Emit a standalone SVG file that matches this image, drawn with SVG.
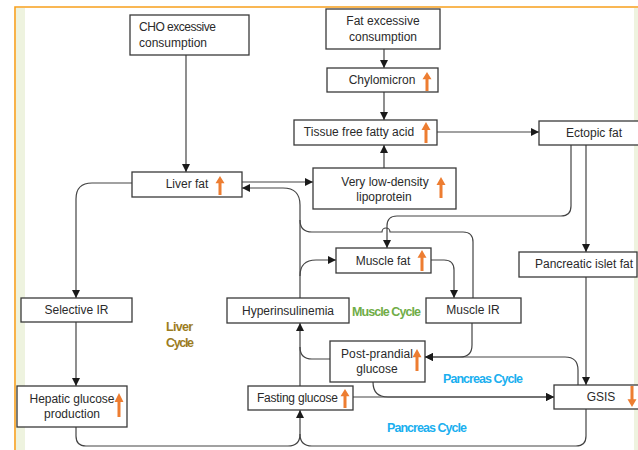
<svg xmlns="http://www.w3.org/2000/svg" width="638" height="450" viewBox="0 0 638 450">
<style>
.box{fill:#fff;stroke:#3a3a3a;stroke-width:1.3}
.t{font-family:"Liberation Sans",Arial,sans-serif;font-size:12px;fill:#2a2a2a;text-anchor:middle}
.c{fill:none;stroke:#444;stroke-width:1.2}
.ar{marker-end:url(#ah)}
.lbl{font-family:"Liberation Sans",Arial,sans-serif;font-size:12.5px;font-weight:bold}
.up{fill:#ED7D31}
</style>
<defs>
<marker id="ah" viewBox="0 0 10 10" refX="10" refY="5" markerWidth="8" markerHeight="8" markerUnits="userSpaceOnUse" orient="auto">
<path d="M0,0 L10,5 L0,10 Z" fill="#1a1a1a"/>
</marker>
<path id="upa" d="M0,0 L4.5,7.5 L1.5,7.5 L1.5,20 L-1.5,20 L-1.5,7.5 L-4.5,7.5 Z"/>
</defs>
<rect width="638" height="450" fill="#fff"/>
<rect x="16" y="8" width="9" height="442" fill="#EEF3DF"/>
<rect x="634" y="8" width="4" height="442" fill="#EEF3DF"/>
<path d="M15,450 V7 H638" fill="none" stroke="#F7A01D" stroke-width="1.6"/>

<g id="connectors">
<path class="c ar" d="M186,55 V172"/>
<path class="c ar" d="M384,49 V68"/>
<path class="c ar" d="M384,92 V120"/>
<path class="c ar" d="M384,168 V145"/>
<path class="c ar" d="M437,132 H539"/>
<path class="c ar" d="M242,182 H313"/>
<path class="c ar" d="M300,298 V205 Q300,188 283,188 H242"/>
<path class="c ar" d="M300,276 Q300,260 316,260 H336"/>
<path class="c" d="M473,298 V242 Q473,232 463,232 H390 A4,4 0 0 0 382,232 H312 Q300,232 300,220"/>
<path class="c ar" d="M571,145 V206 Q571,216 561,216 H397 Q387,216 387,226 V248"/>
<path class="c ar" d="M586,145 V252"/>
<path class="c ar" d="M586,277 V385"/>
<path class="c ar" d="M76,322 V386"/>
<path class="c ar" d="M132,183 H92 Q76,183 76,199 V298"/>
<path class="c ar" d="M431,260 H444 Q454,260 454,270 V298"/>
<path class="c ar" d="M472,323 V345 Q472,357 460,357 H425"/>
<path class="c ar" d="M578,385 V370 Q578,357 565,357 H425"/>
<path class="c" d="M330,359 H312 Q300,359 300,347"/>
<path class="c ar" d="M300,386 V323"/>
<path class="c ar" d="M373,382 Q373,397 388,397 H554"/>
<path class="c ar" d="M353,397 H554"/>
<path class="c ar" d="M76,427 V436 Q76,446 86,446 H288 Q300,446 300,434 V410"/>
<path class="c" d="M586,409 V436 Q586,446 576,446 H312 Q300,446 300,434"/>
</g>

<g id="cho"><rect class="box" x="130" y="15" width="119" height="40"/>
<text class="t" style="text-anchor:start" x="139" y="31" textLength="77">CHO excessive</text>
<text class="t" style="text-anchor:start" x="139" y="47">consumption</text></g>

<g id="fat"><rect class="box" x="326" y="9" width="114" height="40"/>
<text class="t" x="383" y="25">Fat excessive</text>
<text class="t" x="383" y="41">consumption</text></g>

<g id="chylomicron"><rect class="box" x="327" y="68" width="111" height="24"/>
<text class="t" x="382" y="84">Chylomicron</text>
<use href="#upa" class="up" transform="translate(427,72) scale(1,0.95)"/></g>

<g id="tffa"><rect class="box" x="294" y="120" width="143" height="25"/>
<text class="t" x="359" y="136">Tissue free fatty acid</text>
<use href="#upa" class="up" transform="translate(426,122) scale(1,1.05)"/></g>

<g id="ectopic"><rect class="box" x="539" y="121" width="112" height="24"/>
<text class="t" x="594" y="137">Ectopic fat</text></g>

<g id="liverfat"><rect class="box" x="132" y="172" width="110" height="25"/>
<text class="t" x="187" y="188">Liver fat</text>
<use href="#upa" class="up" transform="translate(220,176) scale(1,0.95)"/></g>

<g id="vldl"><rect class="box" x="313" y="168" width="143" height="41"/>
<text class="t" x="385" y="186">Very low-density</text>
<text class="t" x="384" y="201">lipoprotein</text>
<use href="#upa" class="up" transform="translate(441,177) scale(1,1.05)"/></g>

<g id="musclefat"><rect class="box" x="336" y="248" width="95" height="25"/>
<text class="t" x="383" y="265">Muscle fat</text>
<use href="#upa" class="up" transform="translate(422,250) scale(1,1.05)"/></g>

<g id="islet"><rect class="box" x="519" y="252" width="118" height="25"/>
<text class="t" x="584" y="268">Pancreatic islet fat</text></g>

<g id="selir"><rect class="box" x="21" y="298" width="111" height="24"/>
<text class="t" x="76.5" y="314">Selective IR</text></g>

<g id="hyper"><rect class="box" x="227" y="298" width="122" height="25"/>
<text class="t" x="288" y="315">Hyperinsulinemia</text></g>

<g id="muscleir"><rect class="box" x="426" y="298" width="95" height="25"/>
<text class="t" x="473" y="314">Muscle IR</text></g>

<g id="postprandial"><rect class="box" x="330" y="341" width="95" height="41"/>
<text class="t" x="377" y="358" textLength="72">Post-prandial</text>
<text class="t" x="377" y="373">glucose</text>
<use href="#upa" class="up" transform="translate(417,349) scale(1,1.1)"/></g>

<g id="fasting"><rect class="box" x="248" y="386" width="105" height="24"/>
<text class="t" x="297.5" y="402" textLength="81">Fasting glucose</text>
<use href="#upa" class="up" transform="translate(345,389) scale(1,0.95)"/></g>

<g id="hepatic"><rect class="box" x="17" y="386" width="110" height="41"/>
<text class="t" x="72" y="403" textLength="85">Hepatic glucose</text>
<text class="t" x="72" y="418">production</text>
<use href="#upa" class="up" transform="translate(119,393) scale(1,1.2)"/></g>

<g id="gsis"><rect class="box" x="554" y="385" width="97" height="24"/>
<text class="t" x="601" y="401">GSIS</text>
<use href="#upa" class="up" transform="translate(632,407) scale(1,-1.05)"/></g>

<g id="labels">
<text class="lbl" x="166" y="331" fill="#9C7C1E" textLength="27">Liver</text>
<text class="lbl" x="166" y="347" fill="#9C7C1E" textLength="28">Cycle</text>
<text class="lbl" x="352" y="316" fill="#70AD47" textLength="69">Muscle Cycle</text>
<text class="lbl" x="443" y="383" fill="#1AAFEF" textLength="80">Pancreas Cycle</text>
<text class="lbl" x="387" y="432" fill="#1AAFEF" textLength="80">Pancreas Cycle</text>
</g>
</svg>
